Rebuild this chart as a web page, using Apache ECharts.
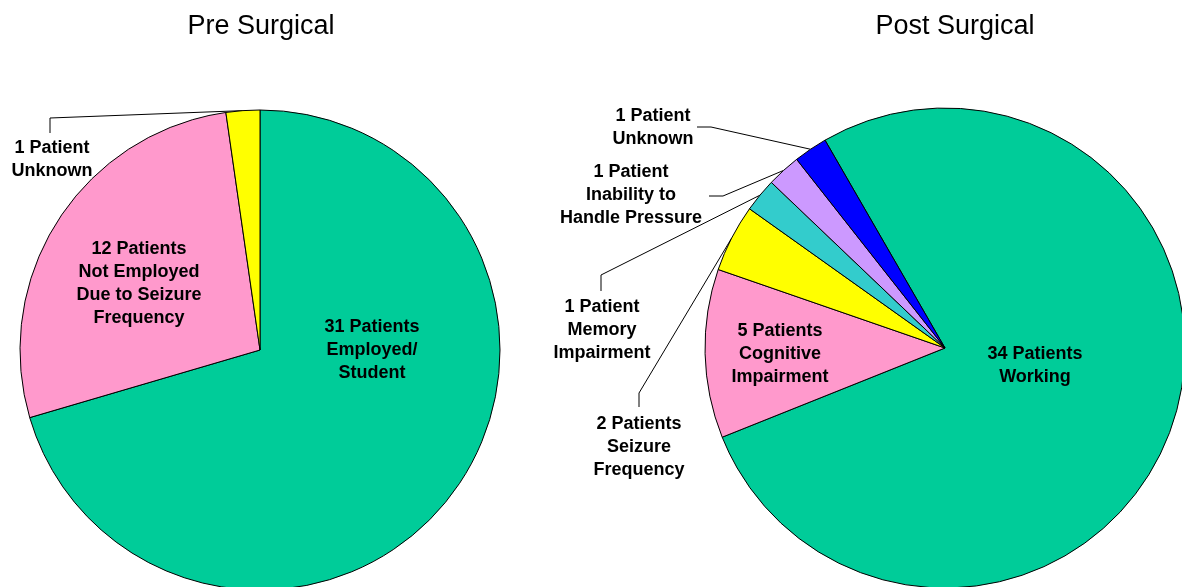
<!DOCTYPE html>
<html>
<head>
<meta charset="utf-8">
<script src="https://cdn.jsdelivr.net/npm/echarts@6/dist/echarts.min.js"></script>
<style>html,body{margin:0;padding:0;background:#fff}#c{width:1182px;height:587px}</style>
</head>
<body>
<div id="c"></div>
<script>
// ---- data ----
const preTitle = 'Pre Surgical';
const postTitle = 'Post Surgical';
const preLabels = ['31 Patients\nEmployed/\nStudent', '12 Patients\nNot Employed\nDue to Seizure\nFrequency', '1 Patient\nUnknown'];
const preValues = [31, 12, 1];
const postLabels = ['34 Patients\nWorking', '5 Patients\nCognitive\nImpairment', '2 Patients\nSeizure\nFrequency', '1 Patient\nMemory\nImpairment', '1 Patient\nInability to\nHandle Pressure', '1 Patient\nUnknown'];
const postValues = [34, 5, 2, 1, 1, 1];

// ---- styles / layout ----
const preColors = ['#00CC99', '#FF99CC', '#FFFF00'];
const postColors = ['#00CC99', '#FF99CC', '#FFFF00', '#33CCCC', '#CC99FF', '#0000FF'];
const preLabelPos = [[372, 350], [139, 284], [52, 160]];
const postLabelPos = [[1035, 366], [780, 354], [639, 447], [602, 330], [631, 195], [653, 128]];
// leader elbows (null = inside label, no line)
const preElbows = [null, null, [[50, 118], [50, 133]]];
const postElbows = [null, null, [[639, 393], [639, 407]], [[601, 275], [601, 291]], [[723, 196], [709, 196]], [[711, 127], [697, 127]]];

function buildData(labels, values, colors, elbows) {
  return labels.map((l, i) => ({
    name: l,
    value: values[i],
    itemStyle: { color: colors[i] },
    labelLine: { show: !!elbows[i] }
  }));
}

const labelStyle = {
  show: true,
  position: 'outside',
  formatter: '{b}',
  color: '#000',
  fontFamily: 'Liberation Sans, Arial, sans-serif',
  fontWeight: 'bold',
  fontSize: 18,
  lineHeight: 23,
  align: 'center'
};

function makeLayout(pos, elbows) {
  return function (params) {
    const i = params.dataIndex;
    const out = { x: pos[i][0], y: pos[i][1], align: 'center', verticalAlign: 'middle' };
    if (elbows[i] && params.labelLinePoints) {
      out.labelLinePoints = [params.labelLinePoints[0]].concat(elbows[i]);
    }
    return out;
  };
}

const titleText = { fontFamily: 'Liberation Sans, Arial, sans-serif', fontWeight: 'normal', fontSize: 27, color: '#000' };

const chart = echarts.init(document.getElementById('c'));
chart.setOption({
  animation: false,
  backgroundColor: '#fff',
  title: [
    { text: preTitle, left: 256, top: 8, textAlign: 'center', textStyle: titleText },
    { text: postTitle, left: 950, top: 8, textAlign: 'center', textStyle: titleText }
  ],
  series: [
    {
      type: 'pie',
      center: [260, 350],
      radius: 240,
      startAngle: 90,
      clockwise: true,
      avoidLabelOverlap: false,
      itemStyle: { borderColor: '#000', borderWidth: 1 },
      label: labelStyle,
      labelLine: { show: true, lineStyle: { color: '#000', width: 1 } },
      labelLayout: makeLayout(preLabelPos, preElbows),
      emphasis: { disabled: true },
      data: buildData(preLabels, preValues, preColors, preElbows)
    },
    {
      type: 'pie',
      center: [945, 348],
      radius: 240,
      startAngle: 120,
      clockwise: true,
      avoidLabelOverlap: false,
      itemStyle: { borderColor: '#000', borderWidth: 1 },
      label: labelStyle,
      labelLine: { show: true, lineStyle: { color: '#000', width: 1 } },
      labelLayout: makeLayout(postLabelPos, postElbows),
      emphasis: { disabled: true },
      data: buildData(postLabels, postValues, postColors, postElbows)
    }
  ]
});
</script>
</body>
</html>
